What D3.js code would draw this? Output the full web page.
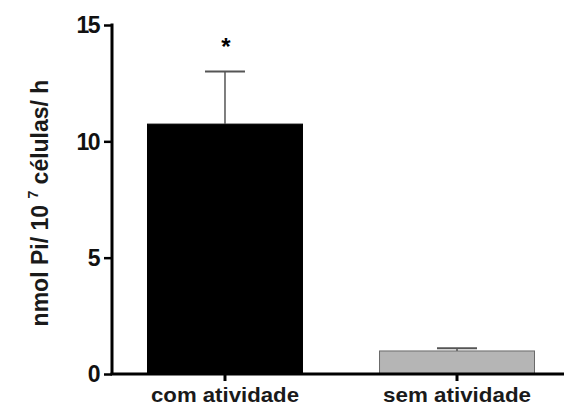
<!DOCTYPE html>
<html>
<head>
<meta charset="utf-8">
<script src="https://cdn.jsdelivr.net/npm/d3@7"></script>
<style>
  html, body { margin: 0; padding: 0; background: #fff; }
  svg { display: block; font-family: "Liberation Sans", Arial, sans-serif; }
</style>
</head>
<body>
<svg id="chart" width="564" height="409"></svg>
<script>
// Phosphatase activity per group
const categories = ["com atividade", "sem atividade"];
const means = [10.74, 0.99];
const errors = [2.26, 0.12];
const fills = ["#000000", "#b5b5b5"];
const strokes = ["#000000", "#6a6a6a"];
const yTicks = [0, 5, 10, 15];
const significance = ["*", ""];

const svg = d3.select("#chart");
const axisX = 112, axisRight = 564;

const y = d3.scaleLinear().domain([0, 15]).range([374, 25]);
const x = d3.scaleBand()
  .domain(categories)
  .range([axisX, 570])
  .paddingInner(0.332)
  .paddingOuter(0.153);

// bars
svg.selectAll("rect.bar")
  .data(categories)
  .join("rect")
  .attr("class", "bar")
  .attr("x", d => x(d))
  .attr("width", x.bandwidth())
  .attr("y", (d, i) => y(means[i]))
  .attr("height", (d, i) => y(0) - y(means[i]))
  .attr("fill", (d, i) => fills[i])
  .attr("stroke", (d, i) => strokes[i])
  .attr("stroke-width", 1);

// error bars (upper only)
const errG = svg.append("g");
categories.forEach((c, i) => {
  const cx = x(c) + x.bandwidth() / 2;
  const top = y(means[i] + errors[i]);
  errG.append("line")
    .attr("x1", cx).attr("x2", cx)
    .attr("y1", y(means[i])).attr("y2", top)
    .attr("stroke", "#555").attr("stroke-width", 1.5);
  errG.append("line")
    .attr("x1", cx - 20).attr("x2", cx + 20)
    .attr("y1", top).attr("y2", top)
    .attr("stroke", "#555").attr("stroke-width", 2);
  if (significance[i]) {
    svg.append("text")
      .attr("x", cx + 1).attr("y", top - 17)
      .attr("text-anchor", "middle")
      .attr("font-size", 24).attr("font-weight", "bold")
      .text(significance[i]);
  }
});

// y axis
const yAxis = svg.append("g")
  .attr("transform", `translate(${axisX},0)`)
  .call(d3.axisLeft(y).tickValues(yTicks).tickSize(8).tickPadding(5).tickSizeOuter(0));
yAxis.select(".domain").attr("stroke", "#000").attr("stroke-width", 3)
  .attr("d", `M0,${y(0)}V${y(15) - 1.5}`);
yAxis.selectAll(".tick line").attr("stroke", "#000").attr("stroke-width", 2.5);
yAxis.selectAll(".tick text")
  .attr("font-size", 23).attr("font-weight", "bold").attr("fill", "#111")
  .attr("font-family", "Liberation Sans, Arial, sans-serif")
  .attr("letter-spacing", -1.5)
  .attr("dy", "0.34em");

// x axis
const xAxis = svg.append("g")
  .attr("transform", `translate(0,${y(0)})`)
  .call(d3.axisBottom(x).tickSize(7).tickPadding(6).tickSizeOuter(0));
xAxis.select(".domain").attr("stroke", "#000").attr("stroke-width", 3)
  .attr("d", `M${axisX - 1.5},0H${axisRight}`);
xAxis.selectAll(".tick line").attr("stroke", "#000").attr("stroke-width", 3);
xAxis.selectAll(".tick text")
  .attr("font-size", 21).attr("font-weight", "bold").attr("fill", "#1a1a1a")
  .attr("font-family", "Liberation Sans, Arial, sans-serif")
  .attr("textLength", 148).attr("lengthAdjust", "spacingAndGlyphs");

// y axis title
const title = svg.append("text")
  .attr("transform", "translate(48,203) rotate(-90)")
  .attr("text-anchor", "middle")
  .attr("font-size", 23).attr("font-weight", "bold").attr("fill", "#1a1a1a");
title.append("tspan").text("nmol Pi/ 10 ");
title.append("tspan").attr("font-size", 14).attr("dy", -10).text("7");
title.append("tspan").attr("dy", 10).text(" células/ h");
</script>
</body>
</html>
